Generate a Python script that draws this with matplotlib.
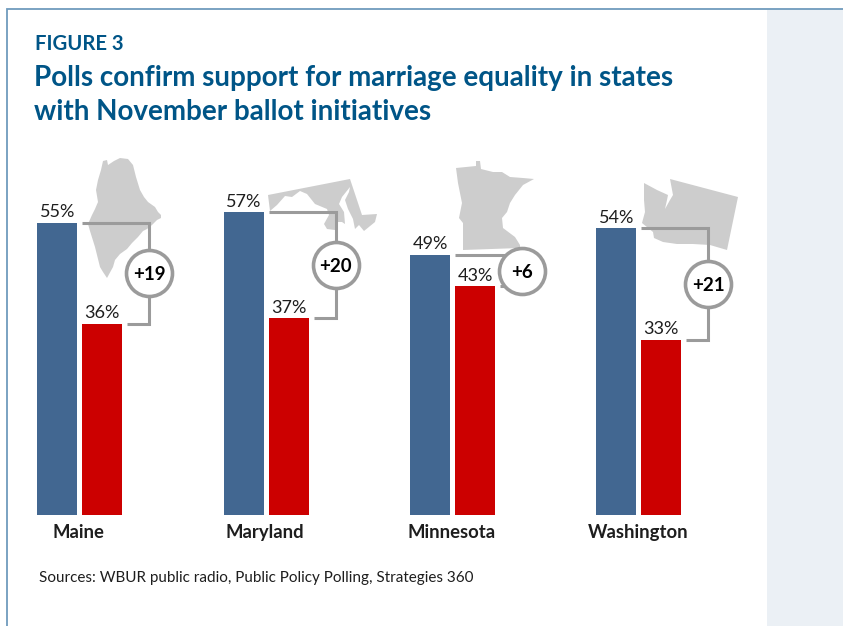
import numpy as np
import matplotlib
matplotlib.use("Agg")
import matplotlib.pyplot as plt
from matplotlib.patches import Polygon, Rectangle

plt.rcParams['font.family'] = ['Lato', 'DejaVu Sans']

# Poll results by state
states = ["Maine", "Maryland", "Minnesota", "Washington"]
support = [55, 57, 49, 54]
oppose = [36, 37, 43, 33]
source_note = "Sources: WBUR public radio, Public Policy Polling, Strategies 360"
figure_tag = "FIGURE 3"
title_lines = ["Polls confirm support for marriage equality in states",
               "with November ballot initiatives"]

# State silhouettes, traced in canvas pixels
maine_outline = [(103, 161), (107, 160), (108, 165), (114, 161), (120, 158), (128, 159), (133, 165),
                 (136, 177), (140, 190), (144, 197), (148, 202), (155, 207), (158, 212), (161, 215),
                 (161, 218), (157, 220), (152, 225), (147, 229), (143, 231), (138, 237), (132, 243),
                 (127, 249), (120, 254), (115, 260), (113, 267), (107, 278), (103, 272), (100, 267),
                 (95, 247), (90, 231), (88, 224), (92, 215), (95, 209), (98, 202), (96, 190),
                 (98, 180), (101, 170)]
maryland_outline = [(268, 195), (350, 179), (362, 215), (377, 214), (375, 222), (364, 231), (359, 225),
                    (355, 229), (353, 219), (348, 209), (345, 200), (349, 192), (350, 187), (342, 197),
                    (339, 204), (344, 212), (345, 224), (342, 222), (337, 222), (335, 230), (327, 229),
                    (324, 224), (329, 215), (327, 209), (315, 204), (307, 194), (300, 191), (292, 197),
                    (285, 196), (277, 205), (270, 211)]
minnesota_outline = [(456, 168), (476, 166), (476, 161), (480, 161), (481, 169), (493, 172), (502, 172),
                     (510, 177), (523, 178), (534, 179), (523, 185), (515, 195), (510, 203), (507, 212),
                     (502, 218), (503, 228), (515, 237), (520, 245), (520, 248), (463, 250), (463, 223),
                     (459, 218), (462, 203), (458, 183)]
washington_outline = [(644, 183), (657, 190), (668, 195), (667, 200), (665, 209), (670, 200), (673, 195),
                      (670, 179), (738, 197), (727, 250), (710, 245), (693, 244), (677, 244), (663, 242),
                      (654, 238), (653, 232), (642, 223), (645, 212), (644, 200)]
state_outlines = [maine_outline, maryland_outline, minnesota_outline, washington_outline]

BLUE = "#426791"
RED = "#cc0000"
GRAY = "#9b9b9b"
SILHOUETTE = "#cdcdcd"
NAVY = "#005587"
INK = "#1e1e1e"
W, H = 843, 626

fig = plt.figure(figsize=(W / 100, H / 100), dpi=100, facecolor="white")

# Canvas layer: side band, frame, silhouettes and headline text in pixel units
canvas = fig.add_axes([0, 0, 1, 1], zorder=1)
canvas.set_xlim(0, W)
canvas.set_ylim(H, 0)
canvas.axis("off")
canvas.add_patch(Rectangle((767, 9), W - 767, H - 9, fc="#ebf0f5", ec="none"))
canvas.plot([6.5, 6.5, W], [H, 9.0, 9.0], color="#6f9bbd", lw=1.3, solid_joinstyle="miter")
for outline in state_outlines:
    canvas.add_patch(Polygon(outline, closed=True, fc=SILHOUETTE, ec="none"))
canvas.text(35, 44, figure_tag, color=NAVY, fontsize=14.6, fontweight="bold", va="center", ha="left")
canvas.text(34, 78, title_lines[0], color=NAVY, fontsize=20, fontweight="bold", va="center", ha="left")
canvas.text(34, 112, title_lines[1], color=NAVY, fontsize=20, fontweight="bold", va="center", ha="left")
canvas.text(39, 578, source_note, color=INK, fontsize=11, va="center", ha="left")

# Bar layer: x in state groups, y in percent, sharing the full figure area
GROUP_PX = 186.33
PCT_PX = 5.315
ORIGIN_X, ORIGIN_Y = 79.8, 515
ax = fig.add_axes([0, 0, 1, 1], zorder=2)
ax.patch.set_alpha(0)
ax.set_xlim(-ORIGIN_X / GROUP_PX, (W - ORIGIN_X) / GROUP_PX)
ax.set_ylim(-(H - ORIGIN_Y) / PCT_PX, ORIGIN_Y / PCT_PX)
ax.axis("off")

groups = np.arange(len(states))
bar_w = 40 / GROUP_PX
shift = 22.5 / GROUP_PX
ax.bar(groups - shift, support, bar_w, color=BLUE, zorder=2)
ax.bar(groups + shift, oppose, bar_w, color=RED, zorder=2)

ring_dx = 69.7 / GROUP_PX
red_left = 2.5 / GROUP_PX
red_right = 47.5 / GROUP_PX
for g, name, hi, lo in zip(groups, states, support, oppose):
    ax.text(g - shift, hi + 0.45, f"{hi}%", ha="center", va="bottom", fontsize=13, color=INK)
    ax.text(g + shift, lo + 0.45, f"{lo}%", ha="center", va="bottom", fontsize=13, color=INK)
    ax.text(g - 0.005, -3.2, name, ha="center", va="center", fontsize=13.3, fontweight="bold", color=INK)
    # Bracket joining the two bars, with the margin in a ring at its midpoint
    ax.plot([g + red_left, g + ring_dx, g + ring_dx, g + red_right], [hi, hi, lo, lo],
            color=GRAY, lw=2.2, solid_joinstyle="miter", solid_capstyle="butt", zorder=3)
    ax.scatter([g + ring_dx], [(hi + lo) / 2], s=(46 * 0.72) ** 2, fc="white", ec=GRAY, lw=2.6, zorder=4)
    ax.text(g + ring_dx, (hi + lo) / 2, f"+{hi - lo}", ha="center", va="center_baseline",
            fontsize=13.5, fontweight="bold", color="black", zorder=5)

fig.savefig("out.png", dpi=100, facecolor="white")
